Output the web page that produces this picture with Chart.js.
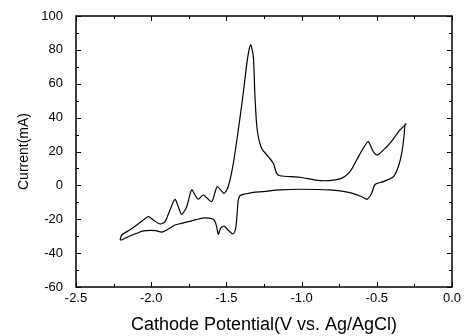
<!DOCTYPE html>
<html>
<head>
<meta charset="utf-8">
<script src="https://cdn.jsdelivr.net/npm/chart.js@4/dist/chart.umd.min.js"></script>
<style>
  body { margin: 0; background: #fff; }
</style>
</head>
<body>
<canvas id="cv-chart" width="464" height="336"></canvas>
<script>
// cyclic voltammogram, one closed loop: forward scan then return scan
const potential = [
    -2.207, -2.196, -2.141, -2.096, -2.053, -2.019, -1.986, -1.941, -1.908, -1.875,
    -1.842, -1.820, -1.797, -1.764, -1.731, -1.702, -1.687, -1.654, -1.598, -1.561,
    -1.516, -1.487, -1.454, -1.421, -1.388, -1.361, -1.339, -1.321, -1.310, -1.295,
    -1.266, -1.221, -1.188, -1.166, -1.144, -1.011, -0.878, -0.745, -0.678, -0.634,
    -0.590, -0.557, -0.523, -0.497, -0.434, -0.412, -0.346, -0.306,
    // return scan
    -0.312, -0.319, -0.334, -0.357, -0.390, -0.457, -0.512, -0.534, -0.563, -0.600,
    -0.678, -0.811, -1.011, -1.144, -1.255, -1.321, -1.376, -1.410, -1.421, -1.428,
    -1.436, -1.443, -1.458, -1.487, -1.516, -1.538, -1.554, -1.565, -1.582, -1.640,
    -1.700, -1.797, -1.842, -1.897, -1.930, -1.971, -2.053, -2.096, -2.152, -2.196,
    -2.207
];
const current = [
    -32.2, -29.3, -26.2, -23.4, -20.4, -18.5, -20.4, -22.8, -21.4, -14.5,
    -8.2, -12.6, -17.1, -12.6, -2.7, -6.7, -8.2, -5.7, -9.6, -0.8,
    -4.7, -0.5, 13.0, 32.7, 54.4, 74.0, 83.0, 76.0, 52.4, 32.7,
    21.9, 16.9, 13.0, 7.1, 5.7, 4.8, 2.8, 3.8, 8.1, 15.0,
    21.9, 25.8, 19.9, 17.9, 22.8, 24.9, 32.7, 36.2,
    36.0, 29.0, 19.0, 11.0, 5.1, 2.2, 0.5, -4.7, -8.2, -6.7,
    -4.3, -2.7, -2.3, -2.7, -3.7, -4.1, -5.1, -6.1, -8.6, -16.0,
    -24.0, -27.0, -28.7, -26.5, -24.0, -25.3, -28.9, -24.4, -20.4, -19.2,
    -20.2, -22.4, -23.4, -26.3, -27.6, -26.7, -26.9, -28.3, -30.3, -32.2,
    -32.2
];
const xTicks = ['-2.5', '-2.0', '-1.5', '-1.0', '-0.5', '0.0'];
const yTicks = [-60, -40, -20, 0, 20, 40, 60, 80, 100];

Chart.defaults.font.family = "'Liberation Sans', Arial, sans-serif";
Chart.defaults.color = '#000';

function isHalf(v) {
    return Math.abs(v * 2 - Math.round(v * 2)) < 1e-6;
}

// box round the plot with inward ticks on all four sides
const frameTicks = {
    id: 'frameTicks',
    afterDatasetsDraw(chart) {
        const ctx = chart.ctx;
        const a = chart.chartArea;
        const x = chart.scales.x, y = chart.scales.y;
        ctx.save();
        ctx.strokeStyle = '#000';
        ctx.lineWidth = 1.5;
        ctx.strokeRect(a.left, a.top, a.right - a.left, a.bottom - a.top);
        ctx.lineWidth = 1;
        ctx.beginPath();
        x.ticks.forEach(t => {
            const px = Math.round(x.getPixelForValue(t.value)) + 0.5;
            const len = isHalf(t.value) ? 5 : 3;
            ctx.moveTo(px, a.bottom); ctx.lineTo(px, a.bottom - len);
            ctx.moveTo(px, a.top); ctx.lineTo(px, a.top + len);
        });
        y.ticks.forEach(t => {
            const py = Math.round(y.getPixelForValue(t.value)) + 0.5;
            const len = yTicks.includes(t.value) ? 5 : 3;
            ctx.moveTo(a.left, py); ctx.lineTo(a.left + len, py);
            ctx.moveTo(a.right, py); ctx.lineTo(a.right - len, py);
        });
        ctx.stroke();
        ctx.restore();
    }
};

const ctx = document.getElementById('cv-chart').getContext('2d');
const cvChart = new Chart(ctx, {
    type: 'scatter',
    data: {
        datasets: [{
            data: potential.map((v, i) => ({x: v, y: current[i]})),
            showLine: true,
            borderColor: '#000',
            borderWidth: 1.2,
            pointRadius: 0,
            tension: 0.25,
            fill: false
        }]
    },
    options: {
        responsive: false,
        animation: false,
        layout: { padding: { top: 16, right: 12, left: 0, bottom: 0 } },
        plugins: { legend: { display: false }, tooltip: { enabled: false } },
        scales: {
            x: {
                type: 'linear',
                min: -2.5,
                max: 0,
                afterFit: s => { s.height = 49; s.paddingLeft = 0; s.paddingRight = 0; },
                grid: { display: false, tickLength: 0 },
                border: { display: false },
                ticks: {
                    stepSize: 0.25,
                    autoSkip: false,
                    maxRotation: 0,
                    padding: 4,
                    font: { size: 13 },
                    callback: v => {
                        const s = v.toFixed(1);
                        return (isHalf(v) && xTicks.includes(s)) ? s : '';
                    }
                },
                title: {
                    display: true,
                    text: 'Cathode Potential(V vs. Ag/AgCl)',
                    font: { size: 18 },
                    padding: { top: 2, bottom: 0 }
                }
            },
            y: {
                min: -60,
                max: 100,
                afterFit: s => { s.width = 76; },
                grid: { display: false },
                border: { display: false },
                ticks: {
                    stepSize: 10,
                    autoSkip: false,
                    padding: 5,
                    font: { size: 13 },
                    callback: v => yTicks.includes(v) ? String(v) : ''
                },
                title: {
                    display: true,
                    text: 'Current(mA)',
                    font: { size: 14 },
                    padding: { top: 16, bottom: 0 }
                }
            }
        }
    },
    plugins: [frameTicks]
});
</script>
</body>
</html>
